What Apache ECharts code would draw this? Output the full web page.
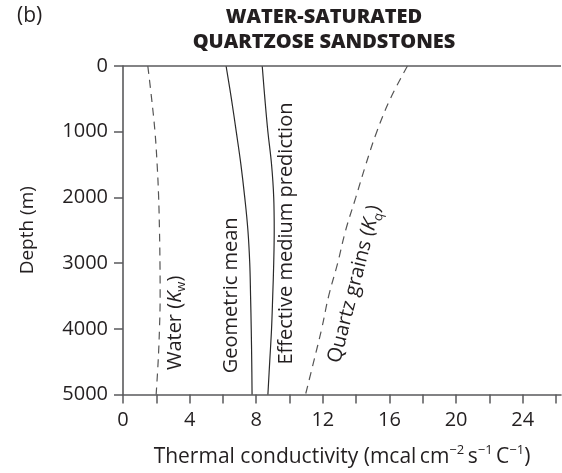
<!DOCTYPE html>
<html>
<head>
<meta charset="utf-8">
<script src="https://cdn.jsdelivr.net/npm/echarts@6/dist/echarts.min.js"></script>
<style>
html,body{margin:0;padding:0;background:#fff;}
#chart{width:562px;height:473px;}
</style>
</head>
<body>
<div id="chart"></div>
<script>
// Depth (m) at which each curve value is read
const depths = [0, 500, 1000, 1500, 2000, 2500, 3000, 3500, 4000, 4500, 5000];
// Thermal conductivity (mcal cm^-2 s^-1 C^-1)
const water     = [1.49, 1.72, 1.92, 2.05, 2.14, 2.19, 2.22, 2.23, 2.19, 2.11, 1.99];
const geometric = [6.19, 6.51, 6.80, 7.08, 7.31, 7.50, 7.61, 7.66, 7.70, 7.73, 7.75];
const effective = [8.36, 8.52, 8.70, 8.92, 9.05, 9.08, 9.05, 8.99, 8.92, 8.81, 8.70];
const quartz    = [17.08, 16.05, 15.24, 14.58, 13.98, 13.37, 12.89, 12.35, 11.93, 11.45, 10.96];

const xTickLabels = [0, 4, 8, 12, 16, 20, 24];
const yTickLabels = [0, 1000, 2000, 3000, 4000, 5000];

const titleLines = ['WATER-SATURATED', 'QUARTZOSE SANDSTONES'];
const panelLabel = '(b)';

const FONT = "'Open Sans', 'Noto Sans', sans-serif";
const TXT = '#231f20';
const AXIS = '#5a5a5c';

function pairs(xs) { return xs.map((v, i) => [v, depths[i]]); }

const chart = echarts.init(document.getElementById('chart'), null, {renderer: 'canvas'});

const option = {
  backgroundColor: '#fff',
  animation: false,
  textStyle: {fontFamily: FONT, color: TXT},
  title: [
    {
      text: titleLines.join('\n'),
      left: 319, top: 0, textAlign: 'center',
      textStyle: {fontFamily: FONT, fontSize: 20, fontWeight: 800, color: TXT, lineHeight: 25}
    },
    {
      text: panelLabel, left: 12, top: 1,
      textStyle: {fontFamily: FONT, fontSize: 21, fontWeight: 'normal', color: TXT}
    }
  ],
  grid: {left: 123, right: 1, top: 66, bottom: 78, containLabel: false},
  xAxis: {
    type: 'value', position: 'bottom', min: 0, max: 26.3, interval: 2,
    name: 'x',
    nameLocation: 'middle', nameGap: 49,
    nameTextStyle: {
      fontFamily: FONT, color: TXT,
      rich: {
        n: {fontFamily: FONT, fontSize: 21, color: TXT, lineHeight: 28},
        s: {fontFamily: FONT, fontSize: 13, color: TXT, lineHeight: 17, verticalAlign: 'top'}
      }
    },
    axisLine: {show: true, onZero: false, lineStyle: {color: AXIS, width: 1.6}},
    axisTick: {show: true, length: 9, inside: false, lineStyle: {color: AXIS, width: 1.5}},
    axisLabel: {
      show: true, margin: 16, fontFamily: FONT, fontSize: 20, color: TXT,
      showMinLabel: true, showMaxLabel: false,
      formatter: v => (xTickLabels.indexOf(Math.round(v * 1000) / 1000) >= 0 ? String(v) : '')
    },
    splitLine: {show: false}
  },
  yAxis: {
    type: 'value', inverse: true, min: 0, max: 5000, interval: 1000,
    name: 'Depth (m)', nameLocation: 'middle', nameGap: 86, nameRotate: 90,
    nameTextStyle: {fontFamily: FONT, fontSize: 19, color: TXT},
    axisLine: {show: true, onZero: false, lineStyle: {color: AXIS, width: 1.6}},
    axisTick: {show: true, length: 9, lineStyle: {color: AXIS, width: 1.5}},
    axisLabel: {
      margin: 15, fontFamily: FONT, fontSize: 20, color: TXT,
      formatter: v => (yTickLabels.indexOf(v) >= 0 ? String(v) : '')
    },
    splitLine: {show: false}
  },
  series: [
    {name: 'Water (Kw)', type: 'line', data: pairs(water), smooth: 0.4, symbol: 'none',
      lineStyle: {color: '#555', width: 1.2, type: [8, 6]},
      markLine: {
        silent: true, symbol: 'none', label: {show: false},
        lineStyle: {color: AXIS, width: 1.6, type: 'solid'},
        data: [{yAxis: 0}]
      }},
    {name: 'Geometric mean', type: 'line', data: pairs(geometric), smooth: 0.4, symbol: 'none',
      lineStyle: {color: '#2a2a2a', width: 1.2}},
    {name: 'Effective medium prediction', type: 'line', data: pairs(effective), smooth: 0.4, symbol: 'none',
      lineStyle: {color: '#2a2a2a', width: 1.2}},
    {name: 'Quartz grains (Kq)', type: 'line', data: pairs(quartz), smooth: 0.4, symbol: 'none',
      lineStyle: {color: '#555', width: 1.2, type: [8, 6]}}
  ]
};
option.xAxis.name = '{n|Thermal conductivity (mcal\u2009cm}{s|\u22122}{n|\u2009s}{s|\u22121}{n|\u2009C}{s|\u22121}{n|)}';

chart.setOption(option);

// Curve labels, anchored in data coordinates
const labelRich = {
  n: {fontFamily: FONT, fontSize: 20, fontStyle: 'normal', fill: TXT, lineHeight: 26},
  i: {fontFamily: FONT, fontSize: 20, fontStyle: 'italic', fill: TXT, lineHeight: 26},
  b: {fontFamily: FONT, fontSize: 13, fontStyle: 'normal', fill: TXT, lineHeight: 18, verticalAlign: 'bottom'}
};
const curveLabels = [
  {text: '{n|Water (}{i|K}{b|w}{n|)}', at: [3.13, 3910], rot: 90},
  {text: '{n|Geometric mean}', at: [6.5, 3490], rot: 90},
  {text: '{n|Effective medium prediction}', at: [9.8, 2550], rot: 90},
  {text: '{n|Quartz grains (}{i|K}{b|q}{n|)}', at: [13.9, 3320], rot: 75.5}
];
const graphics = curveLabels.map(l => {
  const p = chart.convertToPixel({gridIndex: 0}, l.at);
  return {
    type: 'text', x: p[0], y: p[1], rotation: l.rot * Math.PI / 180,
    style: {text: l.text, rich: labelRich, align: 'center', verticalAlign: 'middle',
      font: '20px ' + FONT, fill: TXT}
  };
});
chart.setOption({graphic: graphics});
</script>
</body>
</html>
